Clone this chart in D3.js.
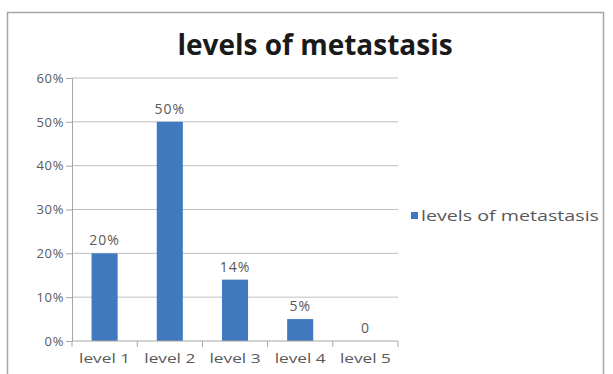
<!DOCTYPE html>
<html>
<head>
<meta charset="utf-8">
<script src="https://cdn.jsdelivr.net/npm/d3@7"></script>
<style>
  body { margin: 0; background: #fff; }
  svg { display: block; font-family: "Open Sans", "DejaVu Sans", sans-serif; }
</style>
</head>
<body>
<svg id="chart" width="613" height="374"></svg>
<script>
// Share of patients by level of metastasis
const categories = ["level 1", "level 2", "level 3", "level 4", "level 5"];
const values = [0.20, 0.50, 0.14, 0.05, 0];
const valueLabels = ["20%", "50%", "14%", "5%", "0"];
const yTicks = [0, 0.1, 0.2, 0.3, 0.4, 0.5, 0.6];
const seriesName = "levels of metastasis";
const chartTitle = "levels of metastasis";

const svg = d3.select("#chart");
const barColor = "#4179bf";
const textColor = "#595959";

// chart frame
svg.append("rect")
  .attr("x", 7.5).attr("y", 12.5)
  .attr("width", 596).attr("height", 370)
  .attr("fill", "#fff")
  .attr("stroke", "#a6a6a6").attr("stroke-width", 1.5);

const plot = { left: 72, right: 398, top: 78, bottom: 341 };

const x = d3.scaleBand()
  .domain(categories)
  .range([plot.left, plot.right])
  .paddingInner(0.6).paddingOuter(0.3);

const y = d3.scaleLinear()
  .domain([0, 0.6])
  .range([plot.bottom, plot.top]);

// horizontal gridlines
svg.append("g")
  .selectAll("line")
  .data(yTicks.filter(d => d > 0))
  .join("line")
  .attr("x1", plot.left).attr("x2", plot.right)
  .attr("y1", d => y(d)).attr("y2", d => y(d))
  .attr("stroke", "#bfbfbf").attr("stroke-width", 1);

// y axis
const yAxis = svg.append("g")
  .attr("transform", `translate(${plot.left},0)`)
  .call(d3.axisLeft(y).tickValues(yTicks).tickFormat(d3.format(".0%")).tickSize(6).tickPadding(2));
yAxis.select(".domain").attr("stroke", "#a6a6a6");
yAxis.selectAll(".tick line").attr("stroke", "#a6a6a6");
yAxis.selectAll(".tick text")
  .attr("fill", textColor).attr("font-size", 13)
  .attr("letter-spacing", 0.6)
  .attr("font-family", "\"Open Sans\", sans-serif");

// bars
svg.append("g")
  .selectAll("rect")
  .data(categories)
  .join("rect")
  .attr("x", d => x(d))
  .attr("width", x.bandwidth())
  .attr("y", (d, i) => y(values[i]))
  .attr("height", (d, i) => y(0) - y(values[i]))
  .attr("fill", barColor);

// x axis with ticks between categories
const xAxis = svg.append("g").attr("transform", `translate(0,${plot.bottom})`);
xAxis.append("line")
  .attr("x1", plot.left).attr("x2", plot.right)
  .attr("stroke", "#a6a6a6");
xAxis.selectAll("line.sep")
  .data(d3.range(categories.length + 1))
  .join("line")
  .attr("class", "sep")
  .attr("x1", i => plot.left + i * (plot.right - plot.left) / categories.length)
  .attr("x2", i => plot.left + i * (plot.right - plot.left) / categories.length)
  .attr("y1", 0).attr("y2", 6)
  .attr("stroke", "#a6a6a6");
xAxis.selectAll("text")
  .data(categories)
  .join("text")
  .attr("x", d => x(d) + x.bandwidth() / 2)
  .attr("y", 22)
  .attr("text-anchor", "middle")
  .attr("fill", textColor).attr("font-size", 13)
  .attr("textLength", 51).attr("lengthAdjust", "spacingAndGlyphs")
  .text(d => d);

// value labels
svg.append("g")
  .selectAll("text")
  .data(categories)
  .join("text")
  .attr("x", d => x(d) + x.bandwidth() / 2)
  .attr("y", (d, i) => y(values[i]) - 8)
  .attr("text-anchor", "middle")
  .attr("fill", textColor).attr("font-size", 14)
  .attr("letter-spacing", 1)
  .text((d, i) => valueLabels[i]);

// title
svg.append("text")
  .attr("x", 315).attr("y", 55)
  .attr("text-anchor", "middle")
  .attr("font-size", 28).attr("font-weight", "bold")
  .attr("fill", "#1a1a1a")
  .text(chartTitle);

// legend
const legend = svg.append("g").attr("transform", "translate(411,216)");
legend.append("rect")
  .attr("x", 0).attr("y", -4).attr("width", 7).attr("height", 7)
  .attr("fill", barColor);
legend.append("text")
  .attr("x", 10).attr("y", 5)
  .attr("fill", textColor).attr("font-size", 14)
  .attr("textLength", 178).attr("lengthAdjust", "spacingAndGlyphs")
  .text(seriesName);
</script>
</body>
</html>
